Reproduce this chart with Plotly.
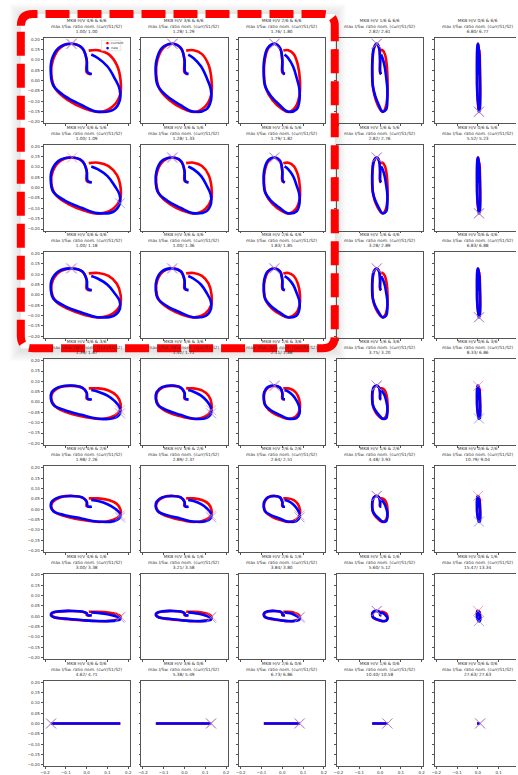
import plotly.graph_objects as go

# ---- panel labels -------------------------------------------------------
COL_LABELS = ["4/6", "3/6", "2/6", "1/6", "0/6"]          # first H/V setting (columns)
ROW_LABELS = ["6/6", "5/6", "4/6", "3/6", "2/6", "1/6", "0/6"]  # second setting (rows)

RATIO_TEXT = [
    ["1.00/ 1.00", "1.28/ 1.29", "1.76/ 1.80", "2.82/ 2.61", "6.80/ 6.77"],
    ["1.00/ 1.09", "1.28/ 1.33", "1.79/ 1.82", "2.82/ 2.76", "5.52/ 5.23"],
    ["1.00/ 1.18", "1.00/ 1.36", "1.83/ 1.85", "3.28/ 2.89", "6.83/ 6.88"],
    ["1.39/ 1.67", "1.52/ 1.71", "2.11/ 1.88", "3.75/ 3.20", "8.33/ 6.86"],
    ["1.98/ 2.26", "2.89/ 2.37", "2.64/ 2.51", "4.48/ 3.93", "10.79/ 9.04"],
    ["3.00/ 3.38", "3.21/ 3.58", "3.84/ 3.80", "5.60/ 5.12", "15.47/ 13.34"],
    ["4.62/ 4.71", "5.38/ 5.49", "6.73/ 6.86", "10.40/ 10.58", "27.63/ 27.63"],
]

# ---- traced loops: x values shared along a column, y values along a row --
X_CURRENT = [
    [0.020, 0.000, 0.000, -0.020, -0.070, -0.125, -0.162, -0.170, -0.150, -0.090, -0.010, 0.060, 0.125, 0.160, 0.163, 0.145, 0.105, 0.055, 0.010],
    [0.016, 0.000, 0.000, -0.016, -0.056, -0.100, -0.130, -0.136, -0.120, -0.072, -0.008, 0.048, 0.100, 0.128, 0.130, 0.116, 0.084, 0.044, 0.008],
    [0.010, 0.000, 0.000, -0.010, -0.036, -0.065, -0.084, -0.088, -0.078, -0.047, -0.005, 0.031, 0.065, 0.083, 0.085, 0.075, 0.055, 0.029, 0.005],
    [0.004, 0.000, 0.000, -0.004, -0.015, -0.028, -0.036, -0.037, -0.033, -0.020, -0.002, 0.013, 0.028, 0.035, 0.036, 0.032, 0.023, 0.012, 0.002],
    [0.007, 0.005, 0.005, 0.004, 0.001, -0.002, -0.004, -0.004, -0.003, -0.001, 0.003, 0.006, 0.009, 0.011, 0.011, 0.010, 0.009, 0.008, 0.007],
]
X_NEW = [
    [0.025, 0.005, 0.000, -0.022, -0.075, -0.135, -0.168, -0.172, -0.160, -0.105, -0.025, 0.050, 0.130, 0.160, 0.158, 0.135, 0.100, 0.055, 0.022],
    [0.020, 0.004, 0.000, -0.018, -0.060, -0.108, -0.134, -0.138, -0.128, -0.084, -0.020, 0.040, 0.104, 0.128, 0.126, 0.108, 0.080, 0.044, 0.018],
    [0.013, 0.003, 0.000, -0.011, -0.039, -0.070, -0.087, -0.089, -0.083, -0.055, -0.013, 0.026, 0.068, 0.083, 0.082, 0.070, 0.052, 0.029, 0.011],
    [0.006, 0.001, 0.000, -0.005, -0.017, -0.030, -0.037, -0.038, -0.035, -0.023, -0.006, 0.011, 0.029, 0.035, 0.035, 0.030, 0.022, 0.012, 0.005],
    [0.008, 0.006, 0.005, 0.004, 0.000, -0.003, -0.004, -0.004, -0.004, -0.002, 0.002, 0.005, 0.009, 0.011, 0.011, 0.010, 0.009, 0.008, 0.008],
]
Y_CURRENT = [
    [0.030, 0.040, 0.100, 0.155, 0.178, 0.160, 0.100, 0.030, -0.040, -0.095, -0.135, -0.152, -0.125, -0.070, 0.000, 0.075, 0.128, 0.147, 0.145],
    [0.025, 0.033, 0.082, 0.127, 0.146, 0.131, 0.082, 0.025, -0.033, -0.078, -0.111, -0.125, -0.103, -0.057, 0.000, 0.062, 0.105, 0.121, 0.119],
    [0.022, 0.029, 0.072, 0.112, 0.128, 0.115, 0.072, 0.022, -0.029, -0.068, -0.097, -0.109, -0.090, -0.050, 0.000, 0.054, 0.092, 0.106, 0.104],
    [0.012, 0.016, 0.045, 0.068, 0.078, 0.072, 0.048, 0.015, -0.022, -0.052, -0.072, -0.082, -0.070, -0.040, -0.008, 0.030, 0.056, 0.066, 0.066],
    [0.011, 0.014, 0.036, 0.056, 0.064, 0.058, 0.036, 0.011, -0.016, -0.038, -0.054, -0.062, -0.052, -0.030, -0.004, 0.025, 0.044, 0.052, 0.052],
    [0.005, 0.006, 0.015, 0.022, 0.026, 0.024, 0.016, 0.006, -0.006, -0.014, -0.020, -0.024, -0.020, -0.012, -0.002, 0.010, 0.018, 0.022, 0.022],
    [0.000] * 19,
]
Y_NEW = [
    [0.032, 0.040, 0.100, 0.158, 0.178, 0.158, 0.100, 0.030, -0.025, -0.075, -0.118, -0.150, -0.140, -0.092, -0.040, 0.010, 0.068, 0.108, 0.126],
    [0.026, 0.033, 0.082, 0.130, 0.146, 0.130, 0.082, 0.025, -0.021, -0.062, -0.097, -0.123, -0.115, -0.075, -0.033, 0.008, 0.056, 0.089, 0.103],
    [0.023, 0.029, 0.072, 0.114, 0.128, 0.114, 0.072, 0.022, -0.018, -0.054, -0.085, -0.108, -0.101, -0.066, -0.029, 0.007, 0.049, 0.078, 0.091],
    [0.013, 0.016, 0.045, 0.070, 0.080, 0.072, 0.048, 0.015, -0.014, -0.040, -0.062, -0.080, -0.078, -0.055, -0.025, 0.004, 0.031, 0.050, 0.058],
    [0.012, 0.014, 0.036, 0.057, 0.064, 0.057, 0.036, 0.011, -0.010, -0.029, -0.045, -0.060, -0.058, -0.040, -0.018, 0.003, 0.024, 0.039, 0.045],
    [0.005, 0.006, 0.015, 0.023, 0.026, 0.024, 0.016, 0.006, -0.004, -0.011, -0.018, -0.023, -0.022, -0.015, -0.007, 0.001, 0.010, 0.016, 0.019],
    [0.000] * 19,
]

# index of the sample marked with a cross (peak point) in each panel
PEAK_CURRENT = [
    [4, 4, 4, 4, 11],
    [4, 4, 4, 4, 11],
    [4, 4, 4, 4, 11],
    [13, 13, 4, 4, 4],
    [13, 13, 13, 4, 4],
    [14, 14, 14, 4, 4],
    [7, 14, 14, 14, 14],
]
PEAK_NEW = [
    [4, 4, 4, 4, 11],
    [13, 4, 4, 4, 11],
    [4, 4, 4, 4, 11],
    [13, 13, 4, 4, 11],
    [13, 13, 13, 4, 11],
    [14, 14, 14, 4, 11],
    [7, 14, 14, 14, 14],
]

X_TICKS = [-0.2, -0.1, 0.0, 0.1, 0.2]
X_TICK_TEXT = ["\u22120.2", "\u22120.1", "0.0", "0.1", "0.2"]
Y_TICKS = [0.20, 0.15, 0.10, 0.05, 0.00, -0.05, -0.10, -0.15, -0.20]
Y_TICK_TEXT = ["0.20", "0.15", "0.10", "0.05", "0.00", "\u22120.05", "\u22120.10", "\u22120.15", "\u22120.20"]

# ---- geometry (pixels) ---------------------------------------------------
W, H = 518, 775
BOX_W, BOX_H = 87, 86
COL_LEFT0, COL_STEP = 41, 98.75
ROW_TOP0, ROW_STEP = 37, 107.7
LIM = 0.207
FONT = "DejaVu Sans"
RED, BLUE = "#ff0000", "#0000ff"


def px(x):
    return x / W


def py(y):
    return 1 - y / H


fig = go.Figure()
layout_axes = {}
annotations = []

for r in range(len(ROW_LABELS)):
    for c in range(len(COL_LABELS)):
        k = r * len(COL_LABELS) + c + 1
        sfx = "" if k == 1 else str(k)
        left = COL_LEFT0 + c * COL_STEP
        right = left + BOX_W
        top = ROW_TOP0 + r * ROW_STEP
        bottom = top + BOX_H
        vis_right = min(right, W)
        x_hi = -LIM + 2 * LIM * (vis_right - left) / BOX_W

        common = dict(
            showgrid=False, zeroline=False, showline=True, linecolor="#555",
            linewidth=0.8, ticks="outside", ticklen=2, tickwidth=0.6,
            tickcolor="#555", tickfont=dict(family=FONT, size=4.0, color="#333"),
            tickmode="array", fixedrange=True,
        )
        layout_axes["xaxis" + sfx] = dict(
            common, domain=[px(left), px(vis_right)], range=[-LIM, x_hi],
            anchor="y" + sfx, tickvals=X_TICKS, ticktext=X_TICK_TEXT,
            showticklabels=(r == len(ROW_LABELS) - 1), mirror=True,
        )
        layout_axes["yaxis" + sfx] = dict(
            common, domain=[py(bottom), py(top)], range=[-LIM, LIM],
            anchor="x" + sfx, tickvals=Y_TICKS, ticktext=Y_TICK_TEXT,
            showticklabels=(c == 0), mirror=(right <= W),
        )

        xr, yr = X_CURRENT[c], Y_CURRENT[r]
        xb, yb = X_NEW[c], Y_NEW[r]
        fig.add_trace(go.Scatter(
            x=xr, y=yr, xaxis="x" + sfx, yaxis="y" + sfx, mode="lines",
            line=dict(color=RED, width=2.6, shape="spline", smoothing=1.1),
            showlegend=False, hoverinfo="skip"))
        fig.add_trace(go.Scatter(
            x=xb, y=yb, xaxis="x" + sfx, yaxis="y" + sfx, mode="lines",
            line=dict(color=BLUE, width=2.6, shape="spline", smoothing=1.1),
            showlegend=False, hoverinfo="skip"))
        ir, ib = PEAK_CURRENT[r][c], PEAK_NEW[r][c]
        fig.add_trace(go.Scatter(
            x=[xr[ir]], y=[yr[ir]], xaxis="x" + sfx, yaxis="y" + sfx, mode="markers",
            marker=dict(symbol="x-thin", size=10,
                        line=dict(width=0.9, color="rgba(255,120,120,0.75)")),
            showlegend=False, hoverinfo="skip"))
        fig.add_trace(go.Scatter(
            x=[xb[ib]], y=[yb[ib]], xaxis="x" + sfx, yaxis="y" + sfx, mode="markers",
            marker=dict(symbol="x-thin", size=10,
                        line=dict(width=0.9, color="rgba(120,120,255,0.75)")),
            showlegend=False, hoverinfo="skip"))

        center = left + BOX_W / 2
        annotations.append(dict(
            x=px(center), y=py(top - 2), xref="paper", yref="paper",
            xanchor="center", yanchor="bottom", showarrow=False, align="center",
            text=(f"MKB H/V {COL_LABELS[c]} & {ROW_LABELS[r]}<br>"
                  f"max I/Sw. ratio nom. (curr/S1/S2)<br>{RATIO_TEXT[r][c]}"),
            font=dict(family=FONT, size=4.3, color="#333"),
        ))

# legend of the first panel
annotations += [
    dict(x=px(101.5), y=py(42.5), xref="paper", yref="paper", xanchor="left",
         yanchor="middle", showarrow=False,
         text=f"<span style='color:{RED}'>\u25cf</span>  current",
         font=dict(family=FONT, size=3.4, color="#333")),
    dict(x=px(101.5), y=py(47), xref="paper", yref="paper", xanchor="left",
         yanchor="middle", showarrow=False,
         text=f"<span style='color:{BLUE}'>\u25cf</span>  new",
         font=dict(family=FONT, size=3.4, color="#333")),
]

# highlighted card around the upper-left 3x3 block
CL, CT, CR, CB, RAD = 18, 13, 335, 349, 12
shapes = []
for i in range(1, 8):
    g = 1.6 * i
    shapes.append(dict(
        type="rect", xref="paper", yref="paper", layer="below",
        x0=px(CL - g), x1=px(CR + g), y0=py(CB + g + 2), y1=py(CT - g + 1),
        fillcolor="rgba(0,0,0,0.014)", line=dict(width=0)))
shapes.append(dict(
    type="rect", xref="paper", yref="paper", layer="below",
    x0=px(CL), x1=px(CR), y0=py(CB), y1=py(CT),
    fillcolor="white", line=dict(width=0)))
card_path = (
    f"M {px(CL)},{py(CT + RAD)} Q {px(CL)},{py(CT)} {px(CL + RAD)},{py(CT)} "
    f"L {px(CR - RAD)},{py(CT)} Q {px(CR)},{py(CT)} {px(CR)},{py(CT + RAD)} "
    f"L {px(CR)},{py(CB - RAD)} Q {px(CR)},{py(CB)} {px(CR - RAD)},{py(CB)} "
    f"L {px(CL + RAD)},{py(CB)} Q {px(CL)},{py(CB)} {px(CL)},{py(CB - RAD)} Z"
)
shapes.append(dict(
    type="path", xref="paper", yref="paper", layer="above", path=card_path,
    line=dict(color="#ff0000", width=8, dash="24px,8px")))
# legend frame
shapes.append(dict(
    type="rect", xref="paper", yref="paper", layer="above",
    x0=px(99.5), x1=px(119), y0=py(50), y1=py(39.5),
    fillcolor="rgba(255,255,255,0.8)", line=dict(color="#ccc", width=0.5)))

fig.update_layout(
    width=W, height=H, margin=dict(l=0, r=0, t=0, b=0),
    paper_bgcolor="white", plot_bgcolor="white",
    showlegend=False, annotations=annotations, shapes=shapes,
    **layout_axes,
)

fig.write_html("out.html")
